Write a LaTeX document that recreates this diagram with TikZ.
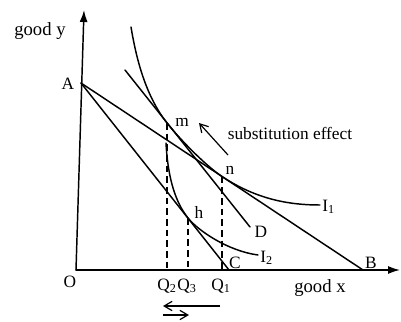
\documentclass[tikz,border=0pt]{standalone}
\usepackage{fontspec}
\setmainfont{Liberation Serif}
\usetikzlibrary{arrows.meta}
\begin{document}
\begin{tikzpicture}[x=0.75pt,y=-0.75pt,
  ln/.style={line width=1.1pt,line cap=round},
  dsh/.style={line width=1.1pt,dash pattern=on 5pt off 3pt},
  lbl/.style={font=\fontsize{13}{15}\selectfont,inner sep=0pt},
  axlbl/.style={font=\fontsize{14}{16}\selectfont,inner sep=0pt},
  barb/.style={line width=0.9pt,-{Straight Barb[length=6pt,width=7pt]}}]
\useasboundingbox (0,0) rectangle (401,322);
% points
\coordinate (O) at (76,270);
\coordinate (ytop) at (84,10);
\coordinate (xend) at (400,270);
\coordinate (A) at (81,83);
\coordinate (B) at (363,270);
\coordinate (C) at (229,270);
\coordinate (Dtop) at (125,70);
\coordinate (D) at (250,227);
\coordinate (m) at (167,123);
\coordinate (n) at (222,176.5);
\coordinate (h) at (188,218);
\coordinate (Q2) at (167,270);
\coordinate (Q3) at (188,270);
\coordinate (Q1) at (222,270);
\coordinate (I1s) at (131,27);
\coordinate (I1e) at (320,205);
\coordinate (I2s) at (166,143);
\coordinate (I2e) at (258,255);
% axes
\draw[ln,-{Latex[length=9pt,width=6pt]}] (O) -- (ytop);
\draw[ln,-{Latex[length=9pt,width=6pt]}] (O) -- (xend);
% budget lines
\draw[ln] (A) -- (B);
\draw[ln] (A) -- (C);
\draw[ln] (Dtop) -- (D);
% indifference curves
\draw[ln] (I1s) .. controls (136,57) and (145,95) .. (m)
  .. controls (183,143) and (207.7,167) .. (n)
  .. controls (257,199.7) and (290,205) .. (I1e);
\draw[ln] (I2s) .. controls (168,180) and (176,203) .. (h)
  .. controls (198,230.6) and (228,251) .. (I2e);
% dashed drops
\draw[dsh] (m) -- (Q2);
\draw[dsh] (h) -- (Q3);
\draw[dsh] (n) -- (Q1);
% labels
\node[axlbl] (gy) at (40,31) {good y};
\node[axlbl] (gx) at (320,288) {good x};
\node[lbl] (lA) at (68,84) {A};
\node[lbl] (lO) at (70,282) {O};
\node[lbl] (lm) at (182,122) {m};
\node[lbl] (ln) at (230,170) {n};
\node[lbl] (lh) at (199,212) {h};
\node[lbl] (lD) at (261,232) {D};
\node[lbl,anchor=west] (lI1) at (322,207) {I\textsubscript{1}};
\node[lbl,anchor=west] (lI2) at (260,258) {I\textsubscript{2}};
\node[lbl] (lC) at (235,263) {C};
\node[lbl] (lB) at (371,263) {B};
\node[lbl] (lQ2) at (167,286) {Q\textsubscript{2}};
\node[lbl] (lQ3) at (187,286) {Q\textsubscript{3}};
\node[lbl] (lQ1) at (221,286) {Q\textsubscript{1}};
\node[lbl] (sub) at (290,133) {substitution effect};
% arrows
\coordinate (sa1) at (228,155);
\coordinate (sa2) at (199,123);
\draw[barb] (sa1) -- (sa2);
\coordinate (la1) at (220,306);
\coordinate (la2) at (163,306);
\draw[barb] (la1) -- (la2);
\coordinate (ra1) at (163,315);
\coordinate (ra2) at (189,315);
\draw[barb] (ra1) -- (ra2);
\end{tikzpicture}
\end{document}
